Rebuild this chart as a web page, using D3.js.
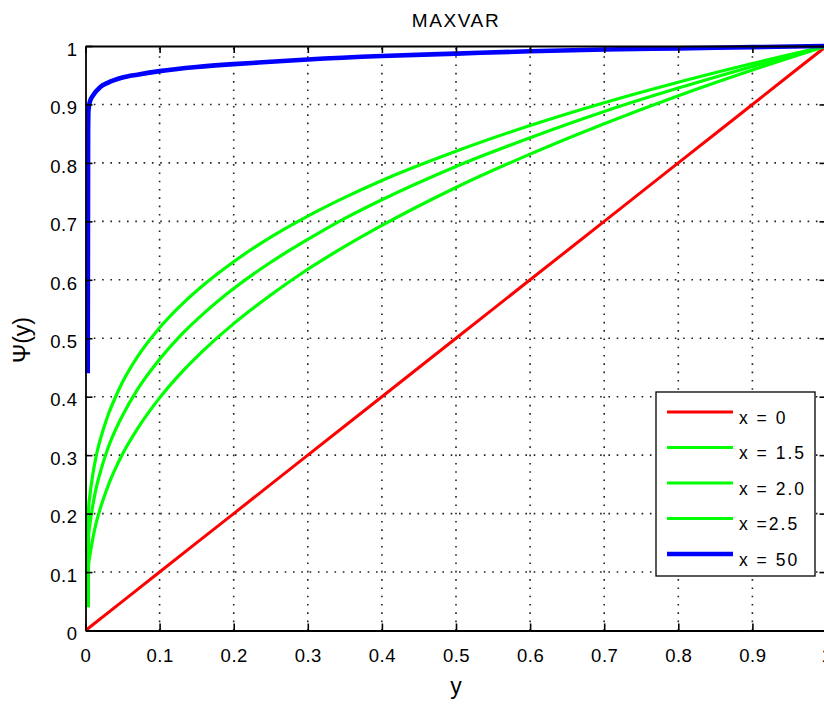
<!DOCTYPE html>
<html><head><meta charset="utf-8">
<script src="https://cdn.jsdelivr.net/npm/d3@7"></script>
<style>
body{margin:0;background:#fff}
svg{display:block}
text{font-family:"Liberation Sans",Arial,Helvetica,sans-serif;fill:#000}
</style>
</head><body>
<svg id="c" width="824" height="706"></svg>
<script>
// ---------- data ----------
const title = "MAXVAR";
const xLabel = "y";
const yLabel = "Ψ(y)";
const xTicks = [0,0.1,0.2,0.3,0.4,0.5,0.6,0.7,0.8,0.9,1];
const xTickLabels = ["0","0.1","0.2","0.3","0.4","0.5","0.6","0.7","0.8","0.9","1"];
const yTicks = [0,0.1,0.2,0.3,0.4,0.5,0.6,0.7,0.8,0.9,1];
const yTickLabels = ["0","0.1","0.2","0.3","0.4","0.5","0.6","0.7","0.8","0.9","1"];

// x = 0 (red)
const redY = [0,0.1,0.2,0.3,0.4,0.5,0.6,0.7,0.8,0.9,1];
const redV = [0,0.1,0.2,0.3,0.4,0.5,0.6,0.7,0.8,0.9,1];

// green curves share sample positions
const greenY   = [0.0035,0.004,0.006,0.01,0.015,0.02,0.03,0.04,0.05,0.07,0.1,0.13,0.16,0.2,0.25,0.3,0.35,0.4,0.5,0.6,0.7,0.8,0.9,1];
const green15V = [0.04,0.11,0.129,0.158,0.187,0.209,0.246,0.276,0.302,0.345,0.398,0.442,0.48,0.525,0.574,0.618,0.657,0.693,0.758,0.815,0.867,0.915,0.959,1];
const green20V = [0.04,0.159,0.182,0.215,0.247,0.271,0.311,0.342,0.368,0.412,0.464,0.507,0.543,0.585,0.63,0.669,0.705,0.737,0.794,0.843,0.888,0.928,0.965,1];
const green25V = [0.04,0.206,0.232,0.268,0.302,0.327,0.367,0.398,0.425,0.468,0.518,0.558,0.592,0.631,0.673,0.709,0.741,0.77,0.82,0.864,0.903,0.938,0.97,1];

// x = 50 (blue)
const blueY = [0.003,0.0035,0.004,0.006,0.01,0.02,0.03,0.05,0.07,0.1,0.15,0.2,0.25,0.3,0.4,0.5,0.6,0.7,0.8,0.9,1];
const blueV = [0.44,0.85,0.89,0.905,0.915,0.93,0.937,0.946,0.951,0.957,0.964,0.969,0.973,0.977,0.983,0.987,0.991,0.994,0.996,0.998,1];

const legendLabels = ["x = 0","x = 1.5","x = 2.0","x =2.5","x = 50"];
const seriesColors = ["#ff0000","#00ff00","#00ff00","#00ff00","#0000ff"];

// ---------- chart ----------
const svg = d3.select("#c");
const x = d3.scaleLinear().domain([0,1]).range([85.5,826.5]);
const y = d3.scaleLinear().domain([0,1]).range([630.5,46]);

// grid
const grid = svg.append("g").attr("stroke","#222").attr("stroke-width",1.6)
  .attr("stroke-dasharray","1.6,6.7");
grid.selectAll(".gx").data(xTicks.slice(1,-1)).join("line")
  .attr("x1",d=>x(d)).attr("x2",d=>x(d)).attr("y1",y(0)).attr("y2",y(1));
grid.selectAll(".gy").data(yTicks.slice(1,-1)).join("line")
  .attr("y1",d=>y(d)).attr("y2",d=>y(d)).attr("x1",x(0)).attr("x2",x(1));

// series
const series = [
  {xs:redY, vs:redV, color:seriesColors[0], w:3},
  {xs:greenY, vs:green15V, color:seriesColors[1], w:3.2},
  {xs:greenY, vs:green20V, color:seriesColors[2], w:3.2},
  {xs:greenY, vs:green25V, color:seriesColors[3], w:3.2},
  {xs:blueY, vs:blueV, color:seriesColors[4], w:4.6}
];
const line = d3.line().x(d=>x(d[0])).y(d=>y(d[1])).curve(d3.curveMonotoneX);
svg.append("g").selectAll("path").data(series).join("path")
  .attr("fill","none")
  .attr("stroke",d=>d.color)
  .attr("stroke-width",d=>d.w)
  .attr("stroke-linejoin","round")
  .attr("d",d=>line(d.xs.map((v,i)=>[v,d.vs[i]])));

// axes
const tickFont = g => g.selectAll("text")
  .style("font-size","18.5px").style("letter-spacing","0.5px")
  .style("font-family","'Liberation Sans',Arial,Helvetica,sans-serif");
const styleAxis = g => {
  g.select(".domain").attr("stroke","#000").attr("stroke-width",1.8);
  g.selectAll(".tick line").attr("stroke","#000").attr("stroke-width",1.6);
};

svg.append("g").attr("transform",`translate(0,${y(0)})`)
  .call(d3.axisBottom(x).tickValues(xTicks).tickFormat((d,i)=>xTickLabels[i])
    .tickSizeInner(-7).tickSizeOuter(0).tickPadding(18))
  .call(styleAxis).call(tickFont)
  .call(g=>g.selectAll("text").attr("dy","0.71em"));

svg.append("g").attr("transform",`translate(${x(0)},0)`)
  .call(d3.axisLeft(y).tickValues(yTicks).tickFormat((d,i)=>yTickLabels[i])
    .tickSizeInner(-7).tickSizeOuter(0).tickPadding(8))
  .call(styleAxis).call(tickFont)
  .call(g=>g.selectAll("text").attr("dy","0.5em"));

svg.append("g").attr("transform",`translate(0,${y(1)})`)
  .call(d3.axisTop(x).tickValues(xTicks).tickFormat("").tickSizeInner(-7).tickSizeOuter(0))
  .call(styleAxis);

svg.append("g").attr("transform",`translate(${x(1)},0)`)
  .call(d3.axisRight(y).tickValues(yTicks).tickFormat("").tickSizeInner(-7).tickSizeOuter(0))
  .call(styleAxis);

// titles
svg.append("text").attr("x",(x(0)+x(1))/2).attr("y",26.5)
  .attr("text-anchor","middle").style("font-size","19px").style("letter-spacing","1.6px")
  .text(title);
svg.append("text").attr("x",(x(0)+x(1))/2).attr("y",694)
  .attr("text-anchor","middle").style("font-size","23px")
  .text(xLabel);
svg.append("text").attr("transform","translate(30,340) rotate(-90)")
  .attr("text-anchor","middle").style("font-size","23px")
  .text(yLabel);

// legend
const lg = svg.append("g");
lg.append("rect").attr("x",656).attr("y",392).attr("width",159).attr("height",184)
  .attr("fill","#fff").attr("stroke","#000").attr("stroke-width",1.3);
const items = lg.selectAll("g.it").data(legendLabels).join("g")
  .attr("transform",(d,i)=>`translate(0,${412 + i*35.5})`);
items.append("line").attr("x1",667).attr("x2",733).attr("y1",0).attr("y2",0)
  .attr("stroke",(d,i)=>seriesColors[i])
  .attr("stroke-width",(d,i)=>series[i].w);
items.append("text").attr("x",739).attr("y",11.5)
  .style("font-size","17.5px").style("letter-spacing","2px")
  .text(d=>d);
</script>
</body></html>
